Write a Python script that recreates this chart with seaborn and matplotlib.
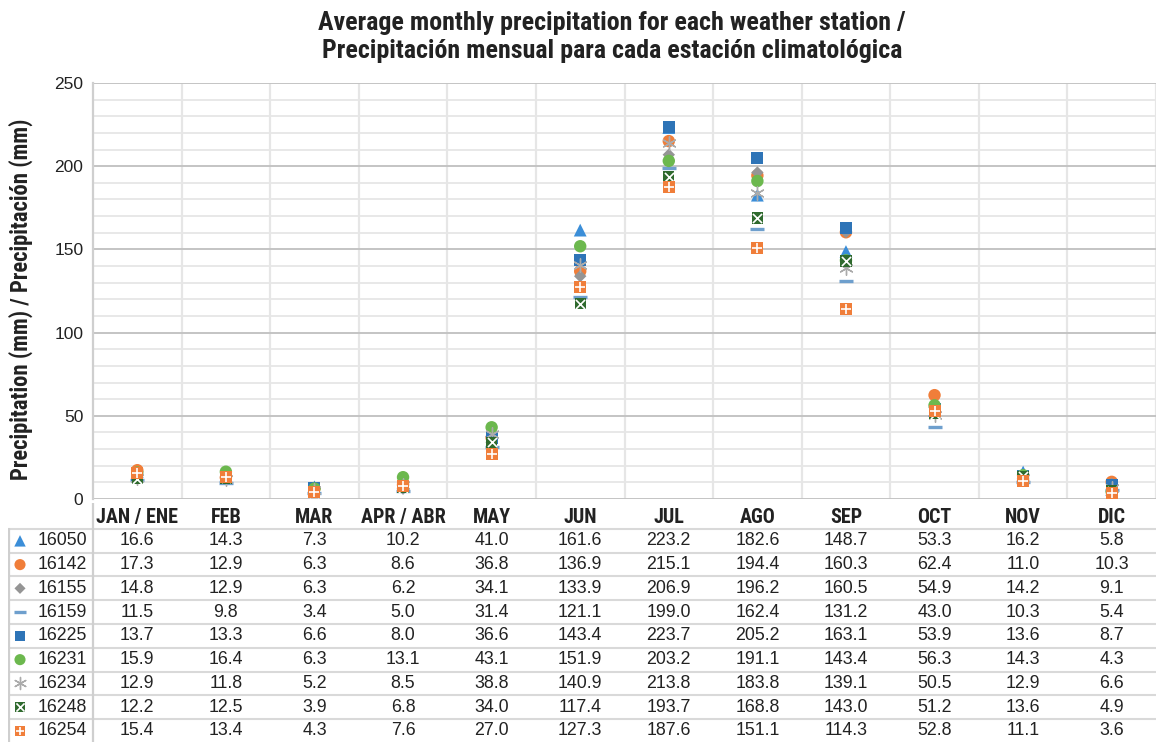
import numpy as np
import pandas as pd
import matplotlib
matplotlib.use("Agg")
import matplotlib.pyplot as plt
import seaborn as sns
from matplotlib.ticker import MultipleLocator

months = ['JAN / ENE', 'FEB', 'MAR', 'APR / ABR', 'MAY', 'JUN',
          'JUL', 'AGO', 'SEP', 'OCT', 'NOV', 'DIC']
stations = ['16050', '16142', '16155', '16159', '16225',
            '16231', '16234', '16248', '16254']

p16050 = [16.6, 14.3, 7.3, 10.2, 41.0, 161.6, 223.2, 182.6, 148.7, 53.3, 16.2, 5.8]
p16142 = [17.3, 12.9, 6.3, 8.6, 36.8, 136.9, 215.1, 194.4, 160.3, 62.4, 11.0, 10.3]
p16155 = [14.8, 12.9, 6.3, 6.2, 34.1, 133.9, 206.9, 196.2, 160.5, 54.9, 14.2, 9.1]
p16159 = [11.5, 9.8, 3.4, 5.0, 31.4, 121.1, 199.0, 162.4, 131.2, 43.0, 10.3, 5.4]
p16225 = [13.7, 13.3, 6.6, 8.0, 36.6, 143.4, 223.7, 205.2, 163.1, 53.9, 13.6, 8.7]
p16231 = [15.9, 16.4, 6.3, 13.1, 43.1, 151.9, 203.2, 191.1, 143.4, 56.3, 14.3, 4.3]
p16234 = [12.9, 11.8, 5.2, 8.5, 38.8, 140.9, 213.8, 183.8, 139.1, 50.5, 12.9, 6.6]
p16248 = [12.2, 12.5, 3.9, 6.8, 34.0, 117.4, 193.7, 168.8, 143.0, 51.2, 13.6, 4.9]
p16254 = [15.4, 13.4, 4.3, 7.6, 27.0, 127.3, 187.6, 151.1, 114.3, 52.8, 11.1, 3.6]

values = [p16050, p16142, p16155, p16159, p16225, p16231, p16234, p16248, p16254]

# marker styles: (marker, colour, size, linewidth, overlay marker)
styles = {
    '16050': ('^', '#3b8ed8', 85, 0, None),
    '16142': ('o', '#f07e3a', 80, 0, None),
    '16155': ('D', '#959595', 40, 0, None),
    '16159': ('_', '#6e9fcd', 95, 2.4, None),
    '16225': ('s', '#2e74b7', 75, 0, None),
    '16231': ('o', '#6cb84e', 80, 0, None),
    '16234': ((6, 2, 0), '#ababab', 95, 1.0, None),
    '16248': ('s', '#2f6a2e', 66, 0, 'x'),
    '16254': ('s', '#f07e3a', 75, 0, '+'),
}

rows = []
for st, vals in zip(stations, values):
    for i, v in enumerate(vals):
        rows.append({'station': st, 'pos': i, 'month': months[i], 'value': v})
df = pd.DataFrame(rows)

sns.set_theme(style='white')
plt.rcParams['font.family'] = ['Liberation Sans', 'DejaVu Sans']
narrow = ['Liberation Sans Narrow', 'Roboto Condensed', 'Liberation Sans', 'DejaVu Sans']

W, H = 1156, 742
fig = plt.figure(figsize=(W / 100, H / 100), dpi=100)

# main plot area
ax = fig.add_axes([93 / W, 1 - 499 / H, (W - 93) / W, (499 - 83) / H])


def draw_marker(axis, x, y, st, scale=1.0):
    m, c, s, lw, over = styles[st]
    if lw > 0:
        sns.scatterplot(x=x, y=y, marker=m, color=c, s=s * scale,
                        linewidth=lw, ax=axis, legend=False, zorder=3)
    else:
        sns.scatterplot(x=x, y=y, marker=m, color=c, s=s * scale,
                        edgecolor='none', linewidth=0, ax=axis, legend=False, zorder=3)
    if over is not None:
        sns.scatterplot(x=x, y=y, marker=over, color='white', s=s * scale * 0.65,
                        linewidth=1.2, ax=axis, legend=False, zorder=3)


for st in stations:
    d = df[df['station'] == st]
    draw_marker(ax, d['pos'].values, d['value'].values, st)

ax.set_xlim(-0.5, 11.5)
ax.set_ylim(0, 250)
ax.yaxis.set_major_locator(MultipleLocator(50))
ax.yaxis.set_minor_locator(MultipleLocator(10))
ax.set_xticks(np.arange(12) + 0.5, minor=True)
ax.set_xticks([])
ax.grid(which='major', axis='y', color='#c4c4c4', linewidth=1.4, zorder=0)
ax.grid(which='minor', axis='y', color='#e6e6e6', linewidth=1.3, zorder=0)
ax.grid(which='minor', axis='x', color='#e6e6e6', linewidth=1.6, zorder=0)
ax.set_axisbelow(True)
ax.tick_params(axis='y', which='both', length=0, labelsize=12.5, pad=7, colors='#222222')
ax.tick_params(axis='x', which='both', length=0)
for side in ['top', 'right', 'bottom']:
    ax.spines[side].set_visible(False)
ax.spines['left'].set_color('#cfcfcf')
ax.spines['left'].set_linewidth(1.6)
ax.set_xlabel('')
ax.set_ylabel('Precipitation (mm) / Precipitación (mm)', fontsize=16.3,
              fontweight='bold', family=narrow, color='#222222')
ax.yaxis.set_label_coords((33 - 93) / (W - 93), (499 - 299) / (499 - 83))

fig.text(612 / W, 1 - 37 / H,
         'Average monthly precipitation for each weather station /\n'
         'Precipitación mensual para cada estación climatológica',
         ha='center', va='center', fontsize=18.7, fontweight='bold',
         family=narrow, linespacing=1.22, color='#222222')

# data table below the plot
cw = (W - 93) / 12
tx0 = -0.5 - (93 - 8) / cw
axt = fig.add_axes([8 / W, 0, (W - 8) / W, (742 - 503) / H])
axt.set_facecolor('none')
axt.set_xlim(tx0, 11.5)
rh = 23.6
axt.set_ylim(9 + (742 - 731) / rh, -(517 - 503) / rh)
axt.axis('off')

for i, mth in enumerate(months):
    axt.text(i, 0, mth, ha='center', va='center', fontsize=14.5,
             fontweight='bold', family=narrow, color='#222222')

for r, (st, vals) in enumerate(zip(stations, values), start=1):
    axt.axhline(r - 0.5, color='#d9d9d9', linewidth=1.5, zorder=1)
    draw_marker(axt, [-0.5 - (93 - 20) / cw], [r], st, scale=0.8)
    axt.text(-0.5 - (93 - 38) / cw, r, st, ha='left', va='center',
             fontsize=12.8, color='#222222')
    for i, v in enumerate(vals):
        axt.text(i, r, f'{v:.1f}', ha='center', va='center',
                 fontsize=12.8, color='#222222')

axt.axvline(-0.5, color='#cfcfcf', linewidth=1.6)
axt.plot([tx0 + 0.01, tx0 + 0.01], [0.5, 10], color='#cfcfcf', linewidth=1.6)

fig.savefig('out.png', dpi=100)
